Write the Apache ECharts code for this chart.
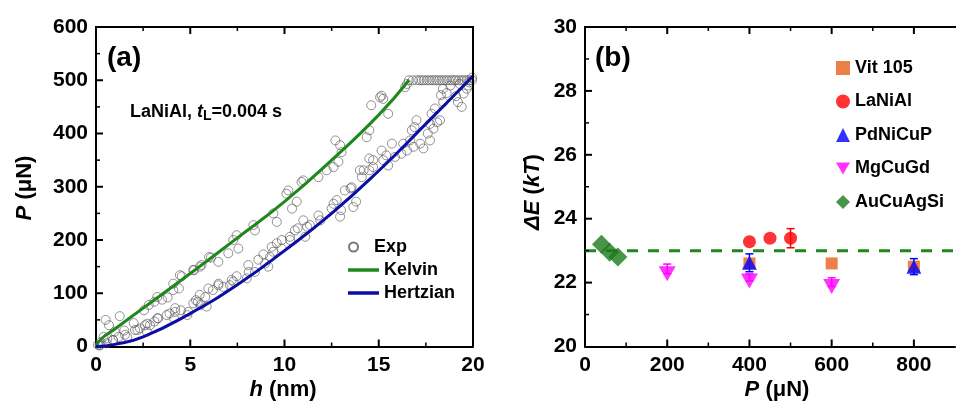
<!DOCTYPE html>
<html>
<head>
<meta charset="utf-8">
<script src="https://cdn.jsdelivr.net/npm/echarts@6/dist/echarts.min.js"></script>
<style>
  html, body { margin: 0; padding: 0; background: #fff; }
  #chart { width: 958px; height: 407px; }
</style>
</head>
<body>
<div id="chart"></div>
<script>
// ---- panel (a): load-displacement data, [h (nm), P (uN)] ----
var expLoad = [
  [0.1, 3], [0.2, 2], [0.25, 8], [0.4, 18], [0.51, 50], [0.6, 15], [0.69, 40], [0.9, 12],
  [1.0, 28], [1.26, 57], [1.5, 30], [1.66, 18], [2.0, 44], [2.2, 31], [2.55, 68], [2.6, 40],
  [2.8, 78], [3.1, 84], [3.25, 93], [3.5, 88], [3.8, 92], [4.1, 118], [4.1, 106], [4.4, 109],
  [4.45, 134], [4.55, 132], [5.16, 144], [5.2, 143], [5.52, 150], [5.6, 153], [6.0, 168],
  [6.1, 167], [6.49, 159], [7.02, 175], [7.28, 200], [7.46, 209], [7.55, 184], [8.35, 228],
  [8.43, 218], [9.41, 250], [9.59, 234], [10.1, 287], [10.2, 293], [10.4, 259], [10.65, 272],
  [10.9, 309], [11.0, 312], [11.8, 318], [12.24, 331], [12.6, 337], [12.7, 387], [12.86, 347],
  [12.95, 378], [13.03, 365], [14.36, 393], [14.5, 406], [14.6, 453], [15.07, 468], [15.15, 471],
  [15.24, 465], [15.5, 437], [16.4, 487], [16.5, 493], [16.6, 500]
];
var expHoldH = [16.8, 17.0, 17.15, 17.28, 17.4, 17.55, 17.68, 17.81, 17.94, 18.07, 18.2, 18.34,
  18.47, 18.6, 18.73, 18.87, 19.0, 19.1, 19.25, 19.4, 19.53, 19.66, 19.8, 19.95];
var expHoldP = 500;
var expUnload = [
  [19.95, 505], [19.8, 496], [19.75, 490], [19.67, 484], [19.5, 475], [19.4, 450], [19.3, 493],
  [19.2, 459], [19.1, 470], [18.8, 490], [18.6, 476], [18.42, 459], [18.4, 484], [18.3, 472],
  [18.25, 425], [18.1, 421], [17.98, 447], [17.9, 409], [17.8, 437], [17.72, 418], [17.72, 387],
  [17.6, 400], [17.37, 372], [17.2, 381], [17.0, 425], [16.9, 412], [16.84, 375], [16.75, 406],
  [16.66, 387], [16.5, 368], [16.3, 381], [16.2, 362], [15.86, 356], [15.7, 381], [15.5, 340],
  [15.4, 359], [15.24, 350], [15.15, 368], [14.7, 337], [14.7, 350], [14.5, 331], [14.5, 353],
  [14.2, 331], [14.1, 318], [14.0, 331], [13.8, 272], [13.65, 262], [13.56, 299], [13.5, 297],
  [13.2, 293], [13.0, 256], [12.95, 244], [12.77, 275], [12.6, 268], [12.5, 259], [11.9, 237],
  [11.8, 246], [11.35, 228], [11.2, 225], [11.1, 206], [11.0, 237], [10.7, 222], [10.55, 218],
  [10.3, 200], [10.29, 206], [9.86, 200], [9.85, 184], [9.59, 194], [9.4, 178], [9.32, 187],
  [9.23, 168], [9.14, 150], [8.97, 156], [8.88, 173], [8.61, 163], [8.43, 140], [8.1, 140],
  [8.08, 153], [8.0, 128], [7.46, 132], [7.29, 122], [7.2, 125], [7.1, 115], [6.76, 112],
  [6.49, 115], [6.5, 118], [6.2, 106], [5.96, 109], [5.87, 75], [5.8, 93], [5.55, 78], [5.5, 97],
  [5.4, 84], [5.3, 87], [5.16, 81], [4.9, 65], [4.85, 59], [4.5, 68], [4.2, 65], [4.2, 72],
  [4.14, 53], [3.9, 62], [3.75, 59], [3.3, 53], [3.25, 53], [3.1, 47], [2.86, 40], [2.72, 43],
  [2.7, 28], [2.33, 34], [2.07, 31], [1.54, 22], [1.2, 18], [0.9, 12], [0.57, 6], [0.2, 3]
];
var kelvinH = [0, 0.3, 1, 2.5, 5, 7.5, 10, 12.5, 15, 16.6];
var kelvinP = [0, 15, 33, 72, 137, 204, 272, 350, 435, 500];
var hertzH = [0, 1, 2.5, 5, 7.5, 10, 12.5, 15, 17.5, 20];
var hertzP = [0, 4, 18, 62, 116, 180, 250, 330, 418, 508];

// ---- panel (b): activation energy vs load ----
var vitP = [400, 600, 800];       var vitE = [22.6, 22.6, 22.5];
var laP = [400, 450, 500];        var laE = [23.28, 23.39, 23.39];  var laErr = [0, 0, 0.3];
var pdP = [400, 800];             var pdE = [22.62, 22.5];          var pdErr = [0.28, 0.25];
var mgP = [200, 400, 600];        var mgE = [22.28, 22.05, 21.88];  var mgErrUp = [0.3, 0.22, 0.27];
var auP = [40, 60, 80];           var auE = [23.2, 22.95, 22.8];
var refP = [0, 900];              var refE = [23, 23];

// ---- tick positions (major / minor) ----
var aMajorX = [5, 10, 15];            var aMinorX = [2.5, 7.5, 12.5, 17.5];
var aMajorY = [100, 200, 300, 400, 500];
var aMinorY = [50, 150, 250, 350, 450, 550];
var bMajorX = [200, 400, 600, 800];   var bMinorX = [100, 300, 500, 700];
var bMajorY = [22, 24, 26, 28];       var bMinorY = [21, 23, 25, 27, 29];

var FONT = '"Liberation Sans", Arial, sans-serif';

function zip(a, b) { return a.map(function (v, i) { return [v, b[i]]; }); }
function errRows(xs, ys, down, up) {
  var out = [];
  xs.forEach(function (x, i) { if (up[i] > 0) out.push([x, ys[i] - down[i], ys[i] + up[i]]); });
  return out;
}
function errSeries(name, color, rows) {
  return {
    name: name, type: 'custom', xAxisIndex: 1, yAxisIndex: 1, z: 2,
    encode: { x: 0, y: [1, 2] },
    data: rows,
    renderItem: function (params, api) {
      var x = api.value(0);
      var top = api.coord([x, api.value(2)]);
      var bot = api.coord([x, api.value(1)]);
      var st = { stroke: color, lineWidth: 1.5 };
      return {
        type: 'group',
        children: [
          { type: 'line', shape: { x1: top[0], y1: top[1], x2: bot[0], y2: bot[1] }, style: st },
          { type: 'line', shape: { x1: top[0] - 4, y1: top[1], x2: top[0] + 4, y2: top[1] }, style: st },
          { type: 'line', shape: { x1: bot[0] - 4, y1: bot[1], x2: bot[0] + 4, y2: bot[1] }, style: st }
        ]
      };
    }
  };
}

// inward ticks (bottom+top for x, left for y) and the top/right frame,
// placed through the panel's own axes.  row = [kind, value, length]
// kind 0: x tick, 1: y tick, 2: frame
function frameSeries(idx, ext, rows, rightLine) {
  return {
    name: 'frame' + idx, type: 'custom', xAxisIndex: idx, yAxisIndex: idx, z: 6, silent: true,
    data: rows,
    renderItem: function (params, api) {
      var kind = api.value(0), v = api.value(1), len = api.value(2);
      var st = { stroke: '#000', lineWidth: len > 5 ? 2 : 1.5 };
      var ch = [];
      if (kind === 0) {
        var b = api.coord([v, ext[2]]), t = api.coord([v, ext[3]]);
        ch.push({ type: 'line', shape: { x1: b[0], y1: b[1], x2: b[0], y2: b[1] - len }, style: st });
        ch.push({ type: 'line', shape: { x1: t[0], y1: t[1], x2: t[0], y2: t[1] + len }, style: st });
      } else if (kind === 1) {
        var l = api.coord([ext[0], v]);
        ch.push({ type: 'line', shape: { x1: l[0], y1: l[1], x2: l[0] + len, y2: l[1] }, style: st });
      } else {
        var tl = api.coord([ext[0], ext[3]]), tr = api.coord([ext[1], ext[3]]), br = api.coord([ext[1], ext[2]]);
        st = { stroke: '#000', lineWidth: 2 };
        ch.push({ type: 'line', shape: { x1: tl[0] - 1, y1: tl[1], x2: tr[0] + 1, y2: tr[1] }, style: st });
        if (rightLine) ch.push({ type: 'line', shape: { x1: tr[0], y1: tr[1], x2: br[0], y2: br[1] }, style: st });
      }
      return { type: 'group', children: ch };
    }
  };
}
function tickRows(vals, kind, len) { return vals.map(function (v) { return [kind, v, len]; }); }

function axis(o) {
  var a = {
    type: 'value', gridIndex: o.grid, min: o.min, max: o.max, interval: o.interval,
    position: o.position,
    axisLine: { show: true, onZero: false, lineStyle: { color: '#000', width: 2 } },
    axisTick: { show: false },
    splitLine: { show: false },
    axisLabel: { show: true, color: '#000', fontFamily: FONT, fontWeight: 'bold', fontSize: 21 }
  };
  if (o.step) {
    a.axisLabel.formatter = function (v) { return v % o.step === 0 ? String(v) : ''; };
  }
  return a;
}

// axis titles (mixed italic / upright), drawn as graphic text
var richI = { fontFamily: FONT, fontWeight: 'bold', fontStyle: 'italic', fontSize: 22, fill: '#000' };
function title(text, x, y, rot) {
  return {
    type: 'text', x: x, y: y, rotation: rot ? Math.PI / 2 : 0,
    style: {
      text: text, align: 'center', verticalAlign: 'middle',
      fill: '#000', fontFamily: FONT, fontWeight: 'bold', fontSize: 22,
      rich: { i: richI, n: { fontFamily: FONT, fontWeight: 'bold', fontSize: 22, fill: '#000' } }
    }
  };
}

var chart = echarts.init(document.getElementById('chart'));

var option = {
  backgroundColor: '#fff',
  animation: false,
  grid: [
    { left: 96, right: 485, top: 27, bottom: 60.5 },
    { left: 585, right: -5, top: 27, bottom: 60.5 }
  ],
  xAxis: [
    axis({ grid: 0, min: 0, max: 20, interval: 5, position: 'bottom' }),
    axis({ grid: 1, min: 0, max: 900, interval: 200, position: 'bottom', step: 200 })
  ],
  yAxis: [
    axis({ grid: 0, min: 0, max: 600, interval: 100, position: 'left' }),
    axis({ grid: 1, min: 20, max: 30, interval: 2, position: 'left' })
  ],
  legend: [
    {
      data: ['Exp'],
      orient: 'vertical', left: 343, top: 232,
      itemWidth: 31, itemHeight: 9,
      textStyle: { color: '#000', fontFamily: FONT, fontWeight: 'bold', fontSize: 18, lineHeight: 20 }
    },
    {
      data: [{ name: 'Kelvin', icon: 'rect' }, { name: 'Hertzian', icon: 'rect' }],
      orient: 'vertical', left: 343, top: 255,
      itemWidth: 31, itemHeight: 3.5, itemGap: 3,
      textStyle: { color: '#000', fontFamily: FONT, fontWeight: 'bold', fontSize: 18, lineHeight: 20 }
    },
    {
      data: ['Vit 105', 'LaNiAl', 'PdNiCuP', 'MgCuGd', 'AuCuAgSi'],
      orient: 'vertical', left: 831, top: 53,
      itemWidth: 14, itemHeight: 14, itemGap: 13.5,
      textStyle: { color: '#000', fontFamily: FONT, fontWeight: 'bold', fontSize: 18, lineHeight: 20 }
    }
  ],
  graphic: [
    { type: 'text', left: 107, top: 44,
      style: { text: '(a)', fill: '#000', font: 'bold 28px ' + FONT } },
    { type: 'text', left: 595, top: 44,
      style: { text: '(b)', fill: '#000', font: 'bold 28px ' + FONT } },
    { type: 'text', left: 130, top: 101,
      style: {
        text: 'LaNiAl, {i|t}{s|L}=0.004 s',
        fill: '#000', fontFamily: FONT, fontWeight: 'bold', fontSize: 18, lineHeight: 22,
        rich: {
          i: { fontFamily: FONT, fontWeight: 'bold', fontStyle: 'italic', fontSize: 18, lineHeight: 22, fill: '#000' },
          s: { fontFamily: FONT, fontWeight: 'bold', fontSize: 14, lineHeight: 8, verticalAlign: 'bottom', fill: '#000' }
        }
      } },
    title('{i|h}{n| (nm)}', 283, 390, false),
    title('{i|P}{n| (μN)}', 25, 188, true),
    title('{i|P}{n| (μN)}', 777, 390, false),
    title('{i|ΔE}{n| (}{i|kT}{n|)}', 533, 192, true)
  ],
  series: [
    {
      name: 'Exp', type: 'scatter', xAxisIndex: 0, yAxisIndex: 0,
      symbol: 'circle', symbolSize: 9,
      itemStyle: { color: 'rgba(255,255,255,0)', borderColor: '#555', borderWidth: 0.8 },
      data: expLoad.concat(expHoldH.map(function (h) { return [h, expHoldP]; }), expUnload)
    },
    {
      name: 'Kelvin', type: 'line', xAxisIndex: 0, yAxisIndex: 0, smooth: true,
      symbol: 'none', lineStyle: { color: '#1e881e', width: 3 }, itemStyle: { color: '#1e881e' },
      data: zip(kelvinH, kelvinP)
    },
    {
      name: 'Hertzian', type: 'line', xAxisIndex: 0, yAxisIndex: 0, smooth: true,
      symbol: 'none', lineStyle: { color: '#0c0ca6', width: 3 }, itemStyle: { color: '#0c0ca6' },
      data: zip(hertzH, hertzP)
    },
    frameSeries(0, [0, 20, 0, 600],
      [[2, 0, 0]].concat(tickRows(aMajorX, 0, 7), tickRows(aMinorX, 0, 4),
        tickRows(aMajorY, 1, 7), tickRows(aMinorY, 1, 4)), true),
    {
      name: 'ref', type: 'line', xAxisIndex: 1, yAxisIndex: 1, symbol: 'none', z: 1,
      lineStyle: { color: '#1e881e', width: 3, type: [11, 10] },
      data: zip(refP, refE)
    },
    errSeries('laErr', '#ff0000', errRows(laP, laE, laErr, laErr)),
    errSeries('pdErr', '#0000ff', errRows(pdP, pdE, pdErr, pdErr)),
    errSeries('mgErr', '#ff00ff', errRows(mgP, mgE, [0, 0, 0], mgErrUp)),
    {
      name: 'Vit 105', type: 'scatter', xAxisIndex: 1, yAxisIndex: 1, z: 3,
      symbol: 'rect', symbolSize: 12, itemStyle: { color: '#e8601c' },
      data: zip(vitP, vitE)
    },
    {
      name: 'LaNiAl', type: 'scatter', xAxisIndex: 1, yAxisIndex: 1, z: 3,
      symbol: 'circle', symbolSize: 13, itemStyle: { color: '#ff0000' },
      data: zip(laP, laE)
    },
    {
      name: 'PdNiCuP', type: 'scatter', xAxisIndex: 1, yAxisIndex: 1, z: 4,
      symbol: 'triangle', symbolSize: [15, 14], itemStyle: { color: '#0000ff' },
      data: zip(pdP, pdE)
    },
    {
      name: 'MgCuGd', type: 'scatter', xAxisIndex: 1, yAxisIndex: 1, z: 3,
      symbol: 'path://M0,0L20,0L10,17Z', symbolSize: [17, 15], itemStyle: { color: '#ff00ff' },
      data: zip(mgP, mgE)
    },
    {
      name: 'AuCuAgSi', type: 'scatter', xAxisIndex: 1, yAxisIndex: 1, z: 3,
      symbol: 'diamond', symbolSize: 19, itemStyle: { color: '#1a7a1a' },
      data: zip(auP, auE)
    },
    frameSeries(1, [0, 900, 20, 30],
      [[2, 0, 0]].concat(tickRows(bMajorX, 0, 7), tickRows(bMinorX, 0, 4),
        tickRows(bMajorY, 1, 7), tickRows(bMinorY, 1, 4)), false)
  ]
};

chart.setOption(option);
window.addEventListener('resize', function () { chart.resize(); });
</script>
</body>
</html>
